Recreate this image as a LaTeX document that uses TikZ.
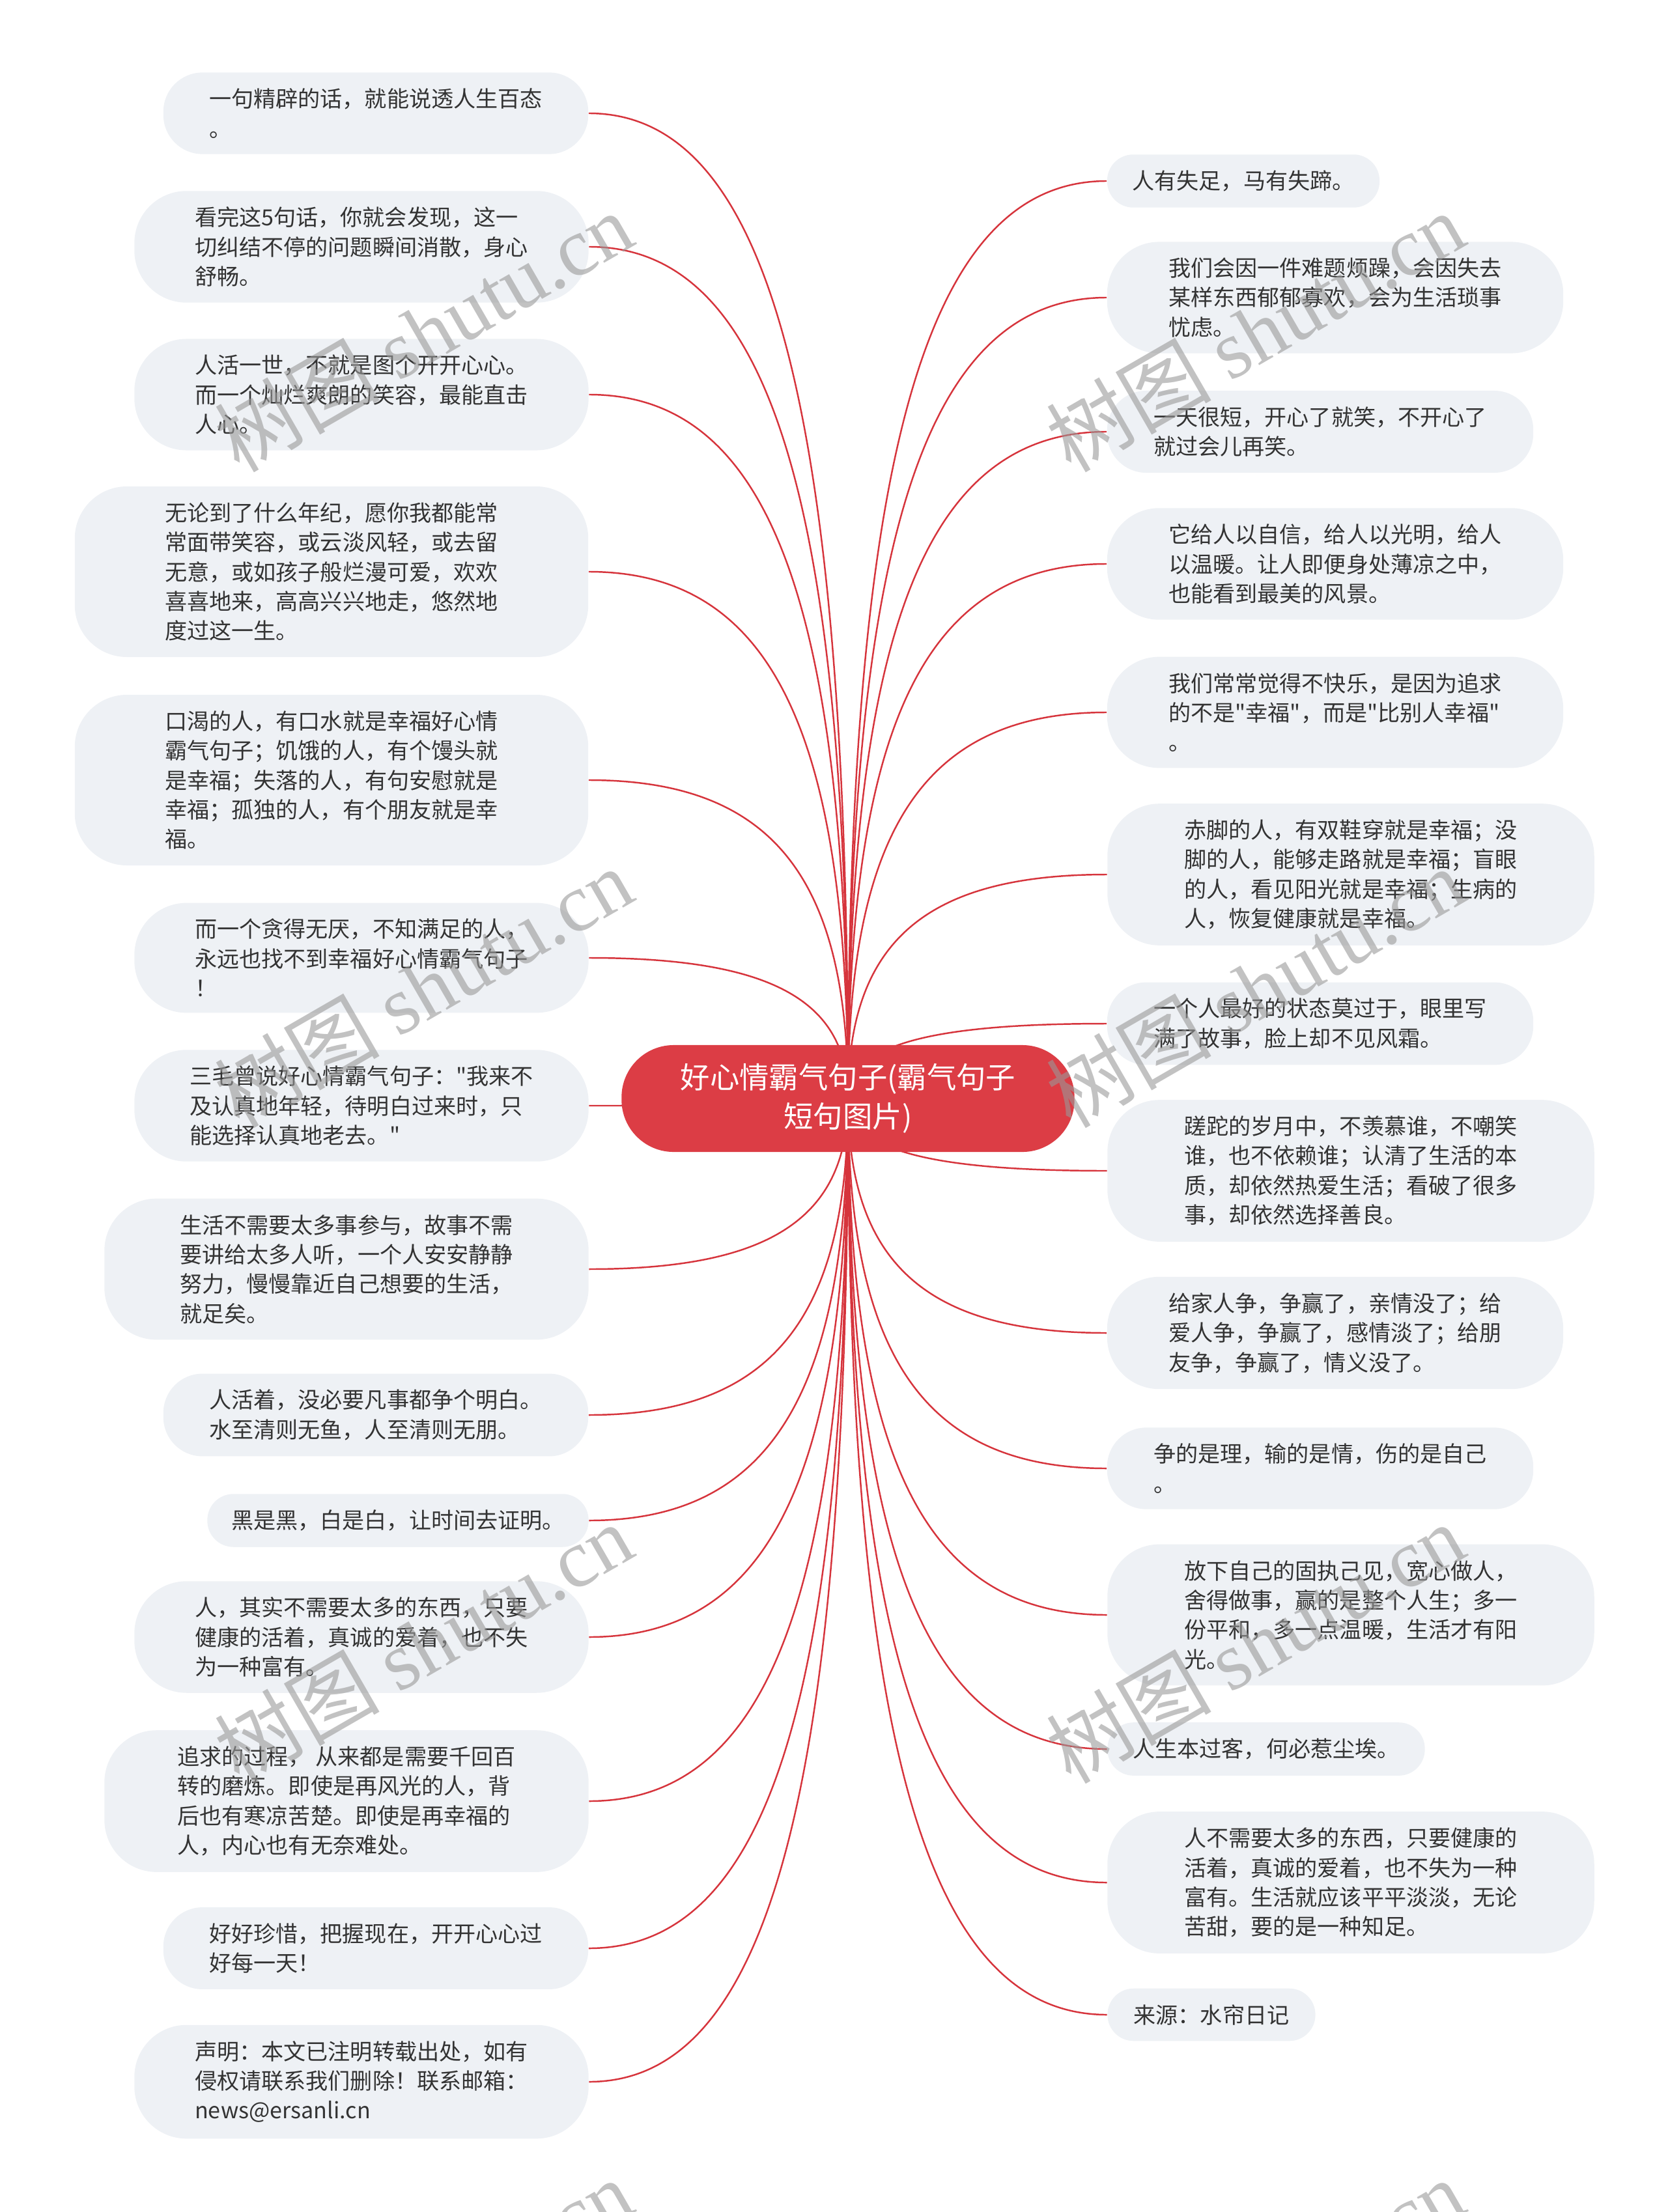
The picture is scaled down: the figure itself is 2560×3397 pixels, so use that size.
\documentclass[tikz,border=0pt]{standalone}
\usepackage{fontspec}
\setmainfont{Noto Sans CJK SC}
\newfontfamily\cjk{Noto Sans CJK SC}
\newfontfamily\wmserif{Liberation Serif}
\usepackage{xcolor}
\usepackage{tikz}
\usetikzlibrary{calc,backgrounds}

\definecolor{hubred}{RGB}{220,61,69}
\definecolor{linkred}{RGB}{214,52,60}
\definecolor{leafgray}{RGB}{238,241,245}
\definecolor{inkgray}{RGB}{51,51,51}

\tikzset{
    hub/.style={fill=hubred, text=white, align=center, rounded corners=8mm,
        inner sep=0pt, font=\cjk\fontsize{12.9pt}{17.2pt}\selectfont},
    leaf/.style={fill=leafgray, text=inkgray, align=left, rounded corners=#1,
        inner xsep=0pt, inner ysep=2.45mm, font=\cjk\fontsize{9.7pt}{12.9pt}\selectfont},
    leaf/.default=8mm,
    link/.style={linkred, line width=0.7pt},
    wm/.style={text=black!40, text opacity=0.6, rotate=30, inner sep=0pt,
        font=\cjk\fontsize{36pt}{36pt}\selectfont}
}

\begin{document}
\begin{tikzpicture}[x=0.01cm, y=-0.01cm]
    \useasboundingbox (0,0) rectangle (2560,3397);

    % Central topic
    \node[hub, minimum width=6.95cm, minimum height=1.64cm] (hub) at (1302,1687) {好心情霸气句子(霸气句子\\短句图片)};

    % Left branch
    \node[leaf=6mm, minimum width=6.52cm] (l1) at (577,174) {一句精辟的话，就能说透人生百态\\。};
    \node[leaf, minimum width=6.97cm] (l2) at (555,379) {看完这5句话，你就会发现，这一\\切纠结不停的问题瞬间消散，身心\\舒畅。};
    \node[leaf, minimum width=6.97cm] (l3) at (555,606) {人活一世，不就是图个开开心心。\\而一个灿烂爽朗的笑容，最能直击\\人心。};
    \node[leaf, minimum width=7.88cm] (l4) at (509,878) {无论到了什么年纪，愿你我都能常\\常面带笑容，或云淡风轻，或去留\\无意，或如孩子般烂漫可爱，欢欢\\喜喜地来，高高兴兴地走，悠然地\\度过这一生。};
    \node[leaf, minimum width=7.88cm] (l5) at (509,1198) {口渴的人，有口水就是幸福好心情\\霸气句子；饥饿的人，有个馒头就\\是幸福；失落的人，有句安慰就是\\幸福；孤独的人，有个朋友就是幸\\福。};
    \node[leaf, minimum width=6.97cm] (l6) at (555,1471) {而一个贪得无厌，不知满足的人，\\永远也找不到幸福好心情霸气句子\\！};
    \node[leaf, minimum width=6.97cm] (l7) at (555,1698) {三毛曾说好心情霸气句子："我来不\\及认真地年轻，待明白过来时，只\\能选择认真地老去。"};
    \node[leaf, minimum width=7.43cm] (l8) at (532,1949) {生活不需要太多事参与，故事不需\\要讲给太多人听，一个人安安静静\\努力，慢慢靠近自己想要的生活，\\就足矣。};
    \node[leaf=6mm, minimum width=6.52cm] (l9) at (577,2173) {人活着，没必要凡事都争个明白。\\水至清则无鱼，人至清则无朋。};
    \node[leaf=4mm, minimum width=5.85cm] (l10) at (611,2335) {黑是黑，白是白，让时间去证明。};
    \node[leaf, minimum width=6.97cm] (l11) at (555,2514) {人，其实不需要太多的东西，只要\\健康的活着，真诚的爱着，也不失\\为一种富有。};
    \node[leaf, minimum width=7.43cm] (l12) at (532,2766) {追求的过程， 从来都是需要千回百\\转的磨炼。即使是再风光的人，背\\后也有寒凉苦楚。即使是再幸福的\\人，内心也有无奈难处。};
    \node[leaf=6mm, minimum width=6.52cm] (l13) at (577,2992) {好好珍惜，把握现在，开开心心过\\好每一天！};
    \node[leaf, minimum width=6.97cm] (l14) at (555,3197) {声明：本文已注明转载出处，如有\\侵权请联系我们删除！联系邮箱：\\news@ersanli.cn};

    % Right branch
    \node[leaf=4mm, minimum width=4.18cm] (r1) at (1909,278) {人有失足，马有失蹄。};
    \node[leaf, minimum width=7.00cm] (r2) at (2050,457) {我们会因一件难题烦躁，会因失去\\某样东西郁郁寡欢，会为生活琐事\\忧虑。};
    \node[leaf=6mm, minimum width=6.54cm] (r3) at (2027,663) {一天很短，开心了就笑，不开心了\\就过会儿再笑。};
    \node[leaf, minimum width=7.00cm] (r4) at (2050,866) {它给人以自信，给人以光明，给人\\以温暖。让人即便身处薄凉之中，\\也能看到最美的风景。};
    \node[leaf, minimum width=7.00cm] (r5) at (2050,1094) {我们常常觉得不快乐，是因为追求\\的不是"幸福"，而是"比别人幸福"\\。};
    \node[leaf, minimum width=7.47cm] (r6) at (2074,1343) {赤脚的人，有双鞋穿就是幸福；没\\脚的人，能够走路就是幸福；盲眼\\的人，看见阳光就是幸福；生病的\\人，恢复健康就是幸福。};
    \node[leaf=6mm, minimum width=6.54cm] (r7) at (2027,1572) {一个人最好的状态莫过于，眼里写\\满了故事，脸上却不见风霜。};
    \node[leaf, minimum width=7.47cm] (r8) at (2074,1798) {蹉跎的岁月中，不羡慕谁，不嘲笑\\谁，也不依赖谁；认清了生活的本\\质，却依然热爱生活；看破了很多\\事，却依然选择善良。};
    \node[leaf, minimum width=7.00cm] (r9) at (2050,2047) {给家人争，争赢了，亲情没了；给\\爱人争，争赢了，感情淡了；给朋\\友争，争赢了，情义没了。};
    \node[leaf=6mm, minimum width=6.54cm] (r10) at (2027,2255) {争的是理，输的是情，伤的是自己\\。};
    \node[leaf, minimum width=7.47cm] (r11) at (2074,2480) {放下自己的固执己见，宽心做人，\\舍得做事，赢的是整个人生；多一\\份平和，多一点温暖，生活才有阳\\光。};
    \node[leaf=4mm, minimum width=4.87cm] (r12) at (1944,2686) {人生本过客，何必惹尘埃。};
    \node[leaf, minimum width=7.47cm] (r13) at (2074,2891) {人不需要太多的东西，只要健康的\\活着，真诚的爱着，也不失为一种\\富有。生活就应该平平淡淡，无论\\苦甜，要的是一种知足。};
    \node[leaf=4mm, minimum width=3.19cm] (r14) at (1860,3094) {来源：水帘日记};

    % Links, behind the boxes
    \begin{scope}[on background layer]
        \foreach \i in {1,...,14} {
            \draw[link] (hub.center) .. controls ($(hub.center)!0.7!(hub.center |- l\i.east)$) and ($(l\i.east)!0.7!(l\i.east -| hub.center)$) .. (l\i.east);
            \draw[link] (hub.center) .. controls ($(hub.center)!0.7!(hub.center |- r\i.west)$) and ($(r\i.west)!0.7!(r\i.west -| hub.center)$) .. (r\i.west);
        }
    \end{scope}

    % Watermark
    \foreach \y [count=\k] in {509,1516,2523,3530} {
        \node[wm] (wml\k) at (650,\y) {树图 {\wmserif shutu.cn}};
        \node[wm] (wmr\k) at (1927,\y) {树图 {\wmserif shutu.cn}};
    }
\end{tikzpicture}
\end{document}
